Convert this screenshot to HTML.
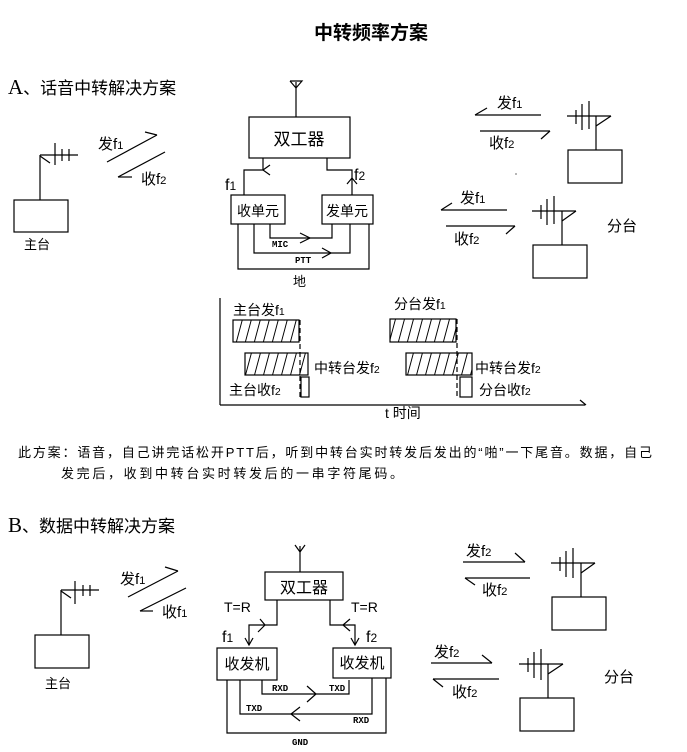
<!DOCTYPE html>
<html><head><meta charset="utf-8"><style>
html,body{margin:0;padding:0;background:#fff}
svg{display:block}
text{font-family:"Liberation Sans","Noto Sans CJK SC",sans-serif;fill:#000}
.m{font-family:"Liberation Mono",monospace;font-weight:bold;font-size:9px}
.s{font-size:75%}
</style></head><body>
<svg width="687" height="752" viewBox="0 0 687 752" xmlns="http://www.w3.org/2000/svg">
<defs>
<pattern id="h" width="9" height="22" patternUnits="userSpaceOnUse" patternTransform="skewX(-15)">
<line x1="4" y1="0" x2="4" y2="22" stroke="#000" stroke-width="1"/>
</pattern>
</defs>
<g stroke="#000" stroke-width="1.2" fill="none">
<line x1="40" y1="155" x2="40" y2="200"/><rect x="14" y="200" width="54" height="32"/>
<line x1="40" y1="155" x2="78" y2="155"/><line x1="55" y1="143" x2="55" y2="165"/><line x1="62" y1="149" x2="62" y2="161"/><line x1="69" y1="149" x2="69" y2="161"/>
<line x1="40" y1="156" x2="50" y2="163"/>
<line x1="107" y1="162" x2="157" y2="135"/><polyline points="145,132 157,135"/>
<line x1="118" y1="177" x2="165" y2="152"/><line x1="118" y1="177" x2="132" y2="177"/>
<line x1="296" y1="82" x2="296" y2="117"/><polyline points="290,81 296,88 302,81 290,81"/>
<rect x="249" y="117" width="101" height="41"/>
<polyline points="263,158 263,170 244,170 244,195"/><polyline points="270,165 263,170 270,175"/>
<polyline points="327,158 327,170 352,170 352,195"/><polyline points="347,184 352,178 357,184"/>
<rect x="231" y="195" width="54" height="29"/><rect x="322" y="195" width="51" height="29"/>
<polyline points="270,224 270,238 332,238 332,224"/><polyline points="300,233 310,238 300,243"/>
<polyline points="254,224 254,253 350,253 350,224"/><polyline points="322,248 331,253 322,258"/>
<polyline points="238,224 238,269 369,269 369,224"/>
<line x1="220" y1="298" x2="220" y2="405"/><line x1="220" y1="405" x2="585" y2="405"/><line x1="580" y1="400" x2="586" y2="405"/>
<rect x="233" y="320" width="66" height="22" fill="url(#h)"/>
<rect x="245" y="353" width="63" height="22" fill="url(#h)"/>
<rect x="390" y="319" width="66" height="23" fill="url(#h)"/>
<rect x="406" y="353" width="66" height="22" fill="url(#h)"/>
<rect x="301" y="377" width="8" height="20"/><rect x="460" y="377" width="12" height="20"/>
<line x1="300" y1="320" x2="300" y2="397" stroke-dasharray="5,3"/>
<line x1="457" y1="319" x2="457" y2="397" stroke-dasharray="5,3"/>
<line x1="475" y1="115" x2="541" y2="115"/><line x1="475" y1="115" x2="487" y2="108"/>
<line x1="480" y1="131" x2="550" y2="131"/><line x1="550" y1="131" x2="541" y2="139"/>
<line x1="567" y1="116" x2="611" y2="116"/><line x1="576" y1="110" x2="576" y2="124"/><line x1="582" y1="104" x2="582" y2="130"/><line x1="589" y1="101" x2="589" y2="129"/>
<line x1="596" y1="116" x2="596" y2="150"/><line x1="596" y1="126" x2="611" y2="116"/>
<rect x="568" y="150" width="54" height="33"/>
<line x1="441" y1="210" x2="507" y2="210"/><line x1="441" y1="210" x2="452" y2="203"/>
<line x1="446" y1="226" x2="515" y2="226"/><line x1="515" y1="226" x2="506" y2="234"/>
<line x1="532" y1="211" x2="576" y2="211"/><line x1="541" y1="205" x2="541" y2="219"/><line x1="547" y1="199" x2="547" y2="225"/><line x1="554" y1="196" x2="554" y2="224"/>
<line x1="562" y1="211" x2="562" y2="245"/><line x1="562" y1="221" x2="576" y2="211"/>
<rect x="533" y="245" width="54" height="33"/>
<line x1="61" y1="590" x2="61" y2="635"/><rect x="35" y="635" width="54" height="33"/>
<line x1="61" y1="590" x2="99" y2="590"/><line x1="75" y1="581" x2="75" y2="604"/><line x1="83" y1="585" x2="83" y2="596"/><line x1="90" y1="585" x2="90" y2="596"/>
<line x1="61" y1="591" x2="71" y2="598"/>
<line x1="128" y1="597" x2="178" y2="571"/><line x1="165" y1="567" x2="178" y2="571"/>
<line x1="140" y1="611" x2="186" y2="588"/><line x1="140" y1="611" x2="153" y2="611"/>
<line x1="300" y1="546" x2="300" y2="572"/><polyline points="295,545 300,552 305,545"/>
<rect x="265" y="572" width="78" height="28"/>
<polyline points="277,600 277,625 249,625 249,645"/><polyline points="260,619 265,625 258,632"/><polyline points="245,638 249,645 253,638"/>
<polyline points="330,600 330,625 355,625 355,645"/><polyline points="350,619 343,625 350,631"/><polyline points="351,638 355,645 359,638"/>
<rect x="217" y="648" width="60" height="32"/><rect x="333" y="648" width="58" height="30"/>
<polyline points="262,680 262,694 349,694 349,680"/><polyline points="307,686 316,694 307,702"/>
<polyline points="240,680 240,714 372,714 372,678"/><polyline points="300,707 291,714 300,721"/>
<polyline points="227,680 227,733 386,733 386,678"/>
<line x1="463" y1="562" x2="525" y2="562"/><line x1="515" y1="553" x2="525" y2="562"/>
<line x1="465" y1="578" x2="530" y2="578"/><line x1="465" y1="578" x2="475" y2="585"/>
<line x1="551" y1="563" x2="595" y2="563"/><line x1="560" y1="557" x2="560" y2="571"/><line x1="566" y1="551" x2="566" y2="577"/><line x1="573" y1="548" x2="573" y2="578"/>
<line x1="581" y1="563" x2="581" y2="597"/><line x1="581" y1="573" x2="595" y2="563"/>
<rect x="552" y="597" width="54" height="33"/>
<line x1="431" y1="663" x2="492" y2="663"/><line x1="482" y1="655" x2="492" y2="663"/>
<line x1="433" y1="679" x2="499" y2="679"/><line x1="433" y1="679" x2="443" y2="687"/>
<line x1="519" y1="664" x2="563" y2="664"/><line x1="528" y1="658" x2="528" y2="672"/><line x1="534" y1="652" x2="534" y2="678"/><line x1="541" y1="649" x2="541" y2="680"/>
<line x1="548" y1="664" x2="548" y2="698"/><line x1="548" y1="674" x2="563" y2="664"/>
<rect x="520" y="698" width="54" height="33"/>
</g>
<circle cx="516" cy="174" r="0.6" fill="#000"/>
<text x="371" y="39" font-size="19" text-anchor="middle" font-weight="bold">中转频率方案</text>
<text x="8" y="94" font-size="17"><tspan font-family="Liberation Serif" font-size="21">A</tspan>、话音中转解决方案</text>
<text x="24" y="249" font-size="13">主台</text>
<text x="98" y="149" font-size="15">发f<tspan class="s">1</tspan></text>
<text x="141" y="184" font-size="15">收f<tspan class="s">2</tspan></text>
<text x="299" y="145" font-size="17" text-anchor="middle">双工器</text>
<text x="225" y="190" font-size="16">f<tspan class="s">1</tspan></text>
<text x="354" y="180" font-size="16">f<tspan class="s">2</tspan></text>
<text x="258" y="216" font-size="14" text-anchor="middle">收单元</text>
<text x="347" y="216" font-size="14" text-anchor="middle">发单元</text>
<text x="272" y="247" class="m">MIC</text>
<text x="295" y="263" class="m">PTT</text>
<text x="293" y="286" font-size="13">地</text>
<text x="233" y="315" font-size="14">主台发f<tspan class="s">1</tspan></text>
<text x="394" y="309" font-size="14">分台发f<tspan class="s">1</tspan></text>
<text x="314" y="373" font-size="14">中转台发f<tspan class="s">2</tspan></text>
<text x="475" y="373" font-size="14">中转台发f<tspan class="s">2</tspan></text>
<text x="229" y="395" font-size="14">主台收f<tspan class="s">2</tspan></text>
<text x="479" y="395" font-size="14">分台收f<tspan class="s">2</tspan></text>
<text x="385" y="418" font-size="14">t 时间</text>
<text x="497" y="108" font-size="15">发f<tspan class="s">1</tspan></text>
<text x="489" y="148" font-size="15">收f<tspan class="s">2</tspan></text>
<text x="460" y="203" font-size="15">发f<tspan class="s">1</tspan></text>
<text x="454" y="244" font-size="15">收f<tspan class="s">2</tspan></text>
<text x="607" y="231" font-size="15">分台</text>
<text x="18" y="457" font-size="13" textLength="634" lengthAdjust="spacing">此方案：语音，自己讲完话松开PTT后，听到中转台实时转发后发出的“啪”一下尾音。数据，自己</text>
<text x="61" y="478" font-size="13" textLength="342" lengthAdjust="spacing">发完后，收到中转台实时转发后的一串字符尾码。</text>
<text x="8" y="532" font-size="17"><tspan font-family="Liberation Serif" font-size="21">B</tspan>、数据中转解决方案</text>
<text x="45" y="688" font-size="13">主台</text>
<text x="120" y="584" font-size="15">发f<tspan class="s">1</tspan></text>
<text x="162" y="617" font-size="15">收f<tspan class="s">1</tspan></text>
<text x="304" y="593" font-size="16" text-anchor="middle">双工器</text>
<text x="224" y="612" font-size="14">T=R</text>
<text x="351" y="612" font-size="14">T=R</text>
<text x="222" y="642" font-size="16">f<tspan class="s">1</tspan></text>
<text x="366" y="642" font-size="16">f<tspan class="s">2</tspan></text>
<text x="247" y="669" font-size="15" text-anchor="middle">收发机</text>
<text x="362" y="668" font-size="15" text-anchor="middle">收发机</text>
<text x="272" y="691" class="m">RXD</text>
<text x="329" y="691" class="m">TXD</text>
<text x="246" y="711" class="m">TXD</text>
<text x="353" y="723" class="m">RXD</text>
<text x="292" y="745" class="m">GND</text>
<text x="466" y="556" font-size="15">发f<tspan class="s">2</tspan></text>
<text x="482" y="595" font-size="15">收f<tspan class="s">2</tspan></text>
<text x="434" y="657" font-size="15">发f<tspan class="s">2</tspan></text>
<text x="452" y="697" font-size="15">收f<tspan class="s">2</tspan></text>
<text x="604" y="682" font-size="15">分台</text>
</svg>
</body></html>
